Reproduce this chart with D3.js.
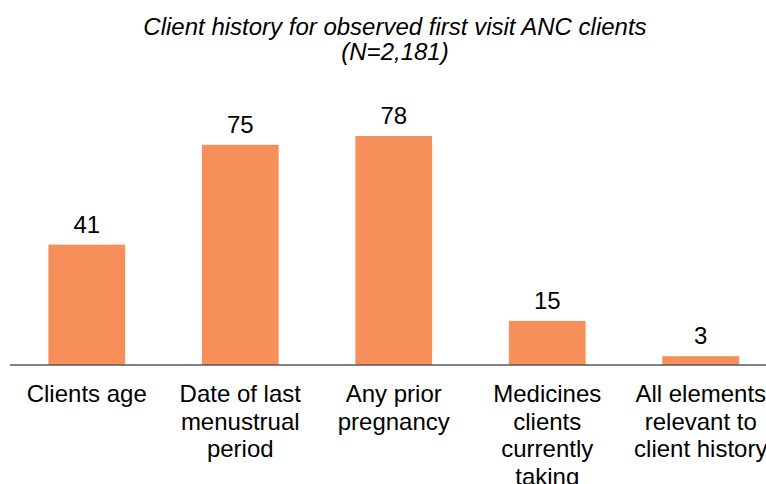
<!DOCTYPE html>
<html>
<head>
<meta charset="utf-8">
<script src="https://cdn.jsdelivr.net/npm/d3@7"></script>
<style>
  html, body { margin: 0; padding: 0; background: #fff; }
  svg { display: block; font-family: Arial, "Liberation Sans", sans-serif; }
</style>
</head>
<body>
<svg id="chart" width="766" height="484"></svg>
<script>
const categories = [
  "Clients age",
  "Date of last menustrual period",
  "Any prior pregnancy",
  "Medicines clients currently taking",
  "All elements relevant to client history"
];
const values = [41, 75, 78, 15, 3];
const titleLines = ["Client history for observed first visit ANC clients", "(N=2,181)"];

const svg = d3.select("#chart");
const W = 766, H = 484;
const baseY = 365;

const x = d3.scaleBand()
  .domain(categories)
  .range([10, 777.5])
  .paddingInner(0.5)
  .paddingOuter(0.25);

const y = d3.scaleLinear()
  .domain([0, 100])
  .range([baseY, 71.4]);

// title
svg.append("g").selectAll("text")
  .data(titleLines)
  .join("text")
  .attr("x", 395)
  .attr("y", (d, i) => 35 + i * 24.5)
  .attr("text-anchor", "middle")
  .attr("font-style", "italic")
  .attr("font-size", 24)
  .attr("fill", "#000")
  .text(d => d);

const data = categories.map((c, i) => ({ c, v: values[i] }));

svg.append("g").selectAll("rect")
  .data(data)
  .join("rect")
  .attr("x", d => x(d.c))
  .attr("y", d => y(d.v))
  .attr("width", x.bandwidth())
  .attr("height", d => baseY - y(d.v))
  .attr("fill", "#F68F5A");

svg.append("g").selectAll("text")
  .data(data)
  .join("text")
  .attr("x", d => x(d.c) + x.bandwidth() / 2)
  .attr("y", d => y(d.v) - 12)
  .attr("text-anchor", "middle")
  .attr("font-size", 24)
  .attr("fill", "#000")
  .text(d => d.v);

// baseline
svg.append("line")
  .attr("x1", 10).attr("x2", W)
  .attr("y1", baseY).attr("y2", baseY)
  .attr("stroke", "#595959")
  .attr("stroke-width", 1.5);

// category labels with wrapping
const labels = svg.append("g").selectAll("text")
  .data(categories)
  .join("text")
  .attr("x", d => x(d) + x.bandwidth() / 2)
  .attr("y", 402)
  .attr("text-anchor", "middle")
  .attr("font-size", 24)
  .attr("fill", "#000");

labels.each(function(d) {
  const t = d3.select(this);
  const cx = +t.attr("x");
  const words = d.split(" ");
  let lines = [], cur = [];
  const tmp = t.append("tspan");
  for (const w of words) {
    const test = cur.concat([w]).join(" ");
    tmp.text(test);
    if (tmp.node().getComputedTextLength() > 150 && cur.length) {
      lines.push(cur.join(" "));
      cur = [w];
    } else cur.push(w);
  }
  if (cur.length) lines.push(cur.join(" "));
  tmp.remove();
  lines.forEach((ln, i) => {
    t.append("tspan").attr("x", cx).attr("dy", i === 0 ? 0 : 27.5).text(ln);
  });
});
</script>
</body>
</html>
